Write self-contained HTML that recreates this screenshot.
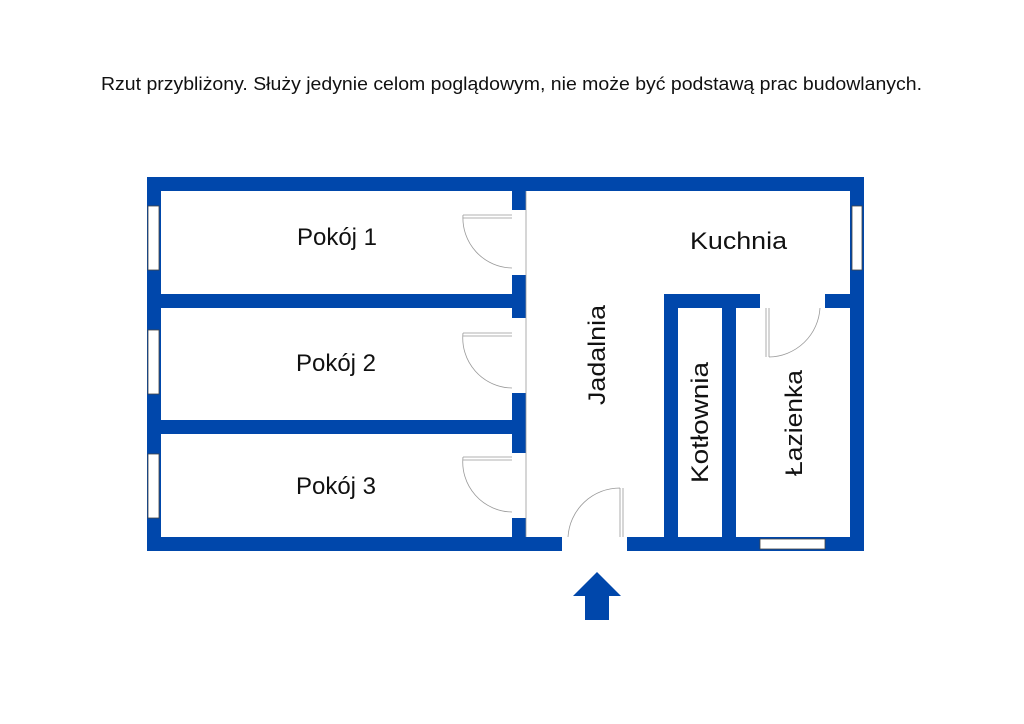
<!DOCTYPE html>
<html><head><meta charset="utf-8"><style>
body{margin:0;background:#fff;width:1024px;height:724px;overflow:hidden}
svg{position:absolute;left:0;top:0}
text{font-family:"Liberation Sans",sans-serif;fill:#111}
</style></head><body>
<svg width="1024" height="724" viewBox="0 0 1024 724">
<text x="101" y="90" font-size="18" textLength="821" lengthAdjust="spacingAndGlyphs">Rzut przybliżony. Służy jedynie celom poglądowym, nie może być podstawą prac budowlanych.</text>
<g fill="#0047AB">
<rect x="147" y="177" width="717" height="14"/>
<rect x="147" y="537" width="415" height="14"/>
<rect x="627" y="537" width="237" height="14"/>
<rect x="147" y="177" width="14" height="374"/>
<rect x="850" y="177" width="14" height="374"/>
<rect x="161" y="294" width="351" height="14"/>
<rect x="161" y="420" width="351" height="14"/>
<rect x="512" y="191" width="14" height="19"/>
<rect x="512" y="275" width="14" height="43"/>
<rect x="512" y="393" width="14" height="60"/>
<rect x="512" y="518" width="14" height="19"/>
<rect x="664" y="294" width="96" height="14"/>
<rect x="825" y="294" width="25" height="14"/>
<rect x="664" y="294" width="14" height="243"/>
<rect x="722" y="294" width="14" height="243"/>
<polygon points="597,572 621,596 609,596 609,620 585,620 585,596 573,596"/>
</g>
<g fill="#fff" stroke="#444" stroke-width="0.8">
<rect x="148" y="206" width="11" height="64"/>
<rect x="148" y="330" width="11" height="64"/>
<rect x="148" y="454" width="11" height="64"/>
<rect x="852" y="206" width="10" height="64"/>
<rect x="760" y="539" width="65" height="10"/>
</g>
<g fill="none" stroke="#999" stroke-width="0.8">
<path d="M463 215 H512 M463 218 H512 M463 215 A50 50 0 0 0 512 268"/>
<path d="M463 333 H512 M463 336 H512 M463 333 A50 50 0 0 0 512 388"/>
<path d="M463 457 H512 M463 460 H512 M463 457 A50 50 0 0 0 512 512"/>
<path d="M620 488 V537 M623 488 V537 M620 488 A52 52 0 0 0 568 537"/>
<path d="M766 308 V357 M769 308 V357 M769 357 A52 52 0 0 0 820 308"/>
<path d="M526 191 V537"/>
</g>
<text x="337" y="245" font-size="24" text-anchor="middle">Pokój 1</text>
<text x="336" y="371" font-size="24" text-anchor="middle">Pokój 2</text>
<text x="336" y="494" font-size="24" text-anchor="middle">Pokój 3</text>
<text x="690" y="249" font-size="24" textLength="97" lengthAdjust="spacingAndGlyphs">Kuchnia</text>
<text transform="translate(605,405) rotate(-90)" font-size="24" textLength="100" lengthAdjust="spacingAndGlyphs">Jadalnia</text>
<text transform="translate(708,483) rotate(-90)" font-size="24" textLength="121" lengthAdjust="spacingAndGlyphs">Kotłownia</text>
<text transform="translate(802,476) rotate(-90)" font-size="24" textLength="106" lengthAdjust="spacingAndGlyphs">Łazienka</text>
</svg>
</body></html>
